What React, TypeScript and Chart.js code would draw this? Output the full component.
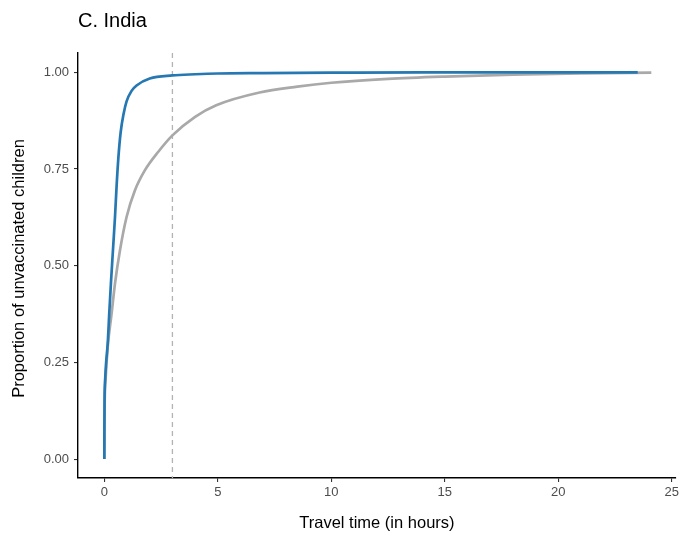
import React, { useEffect, useRef } from "react";
import { Chart, registerables } from "chart.js";

Chart.register(...registerables);

const TITLE = "C. India";
const X_TITLE = "Travel time (in hours)";
const Y_TITLE = "Proportion of unvaccinated children";
const X_TICKS = [0, 5, 10, 15, 20, 25];
const Y_TICKS = [0, 0.25, 0.5, 0.75, 1.0];
const CUTOFF_HOURS = 3;

const BLUE_X = [0, 0.003, 0.01, 0.04, 0.08, 0.15, 0.22, 0.29, 0.38, 0.47, 0.54, 0.62, 0.72, 0.85, 0.98, 1.2, 1.42, 2.0, 3, 4, 5, 7, 10, 14, 18, 23.5];
const BLUE_Y = [0, 0.08, 0.15, 0.21, 0.25, 0.3, 0.38, 0.454, 0.54, 0.626, 0.705, 0.78, 0.845, 0.893, 0.925, 0.952, 0.966, 0.984, 0.992, 0.995, 0.997, 0.998, 0.999, 1.0, 1.0, 1.0];

const GRAY_X = [0, 0.01, 0.05, 0.15, 0.32, 0.47, 0.69, 0.98, 1.35, 1.79, 2.37, 3.0, 4, 4.93, 6.84, 8.5, 10, 12.5, 15, 18, 21, 24.1];
const GRAY_Y = [0, 0.12, 0.2, 0.29, 0.376, 0.454, 0.54, 0.626, 0.695, 0.747, 0.794, 0.837, 0.885, 0.915, 0.948, 0.963, 0.973, 0.983, 0.989, 0.994, 0.997, 0.999];

const FONT = "'Liberation Sans', Arial, Helvetica, sans-serif";

export default function App() {
  const ref = useRef<HTMLCanvasElement | null>(null);

  useEffect(() => {
    if (!ref.current) return;
    const overlay = {
      id: "overlay",
      beforeDatasetsDraw(chart: any) {
        const { ctx, chartArea, scales } = chart;
        const x = scales.x.getPixelForValue(CUTOFF_HOURS);
        ctx.save();
        ctx.strokeStyle = "#b3b3b3";
        ctx.lineWidth = 1.3;
        ctx.setLineDash([5, 4]);
        ctx.beginPath();
        ctx.moveTo(x, chartArea.top);
        ctx.lineTo(x, chartArea.bottom);
        ctx.stroke();
        ctx.restore();
      },
      afterDraw(chart: any) {
        const { ctx, chartArea } = chart;
        ctx.save();
        ctx.fillStyle = "#000";
        ctx.textBaseline = "middle";
        ctx.font = `20px ${FONT}`;
        ctx.textAlign = "left";
        ctx.fillText(TITLE, chartArea.left, 21);
        ctx.font = `16.5px ${FONT}`;
        ctx.textAlign = "center";
        ctx.fillText(X_TITLE, (chartArea.left + chartArea.right) / 2, 523);
        ctx.translate(19, (chartArea.top + chartArea.bottom) / 2 + 3);
        ctx.rotate(-Math.PI / 2);
        ctx.fillText(Y_TITLE, 0, 0);
        ctx.restore();
      },
    };

    const chart = new Chart(ref.current, {
      type: "line",
      data: {
        datasets: [
          {
            label: "blue",
            data: BLUE_X.map((x, i) => ({ x, y: BLUE_Y[i] })),
            borderColor: "#2678b2",
            borderWidth: 2.7,
            pointRadius: 0,
            cubicInterpolationMode: "monotone",
            order: 0,
          },
          {
            label: "gray",
            data: GRAY_X.map((x, i) => ({ x, y: GRAY_Y[i] })),
            borderColor: "#a9a9a9",
            borderWidth: 2.7,
            pointRadius: 0,
            cubicInterpolationMode: "monotone",
            order: 1,
          },
        ],
      },
      options: {
        responsive: false,
        animation: false,
        devicePixelRatio: 1,
        layout: { padding: { top: 53, right: 4, left: 0, bottom: 0 } },
        plugins: { legend: { display: false }, tooltip: { enabled: false } },
        scales: {
          x: {
            type: "linear",
            min: -1.16,
            max: 25.18,
            afterFit: (s: any) => { s.height = 60; },
            afterBuildTicks: (s: any) => { s.ticks = X_TICKS.map((v) => ({ value: v })); },
            grid: { drawOnChartArea: false, tickLength: 4, color: "#333", lineWidth: 1.1 },
            border: { display: true, color: "#000", width: 1.4 },
            ticks: {
              color: "#4d4d4d",
              font: { family: FONT, size: 13 },
              padding: 3,
              autoSkip: false,
              maxRotation: 0,
              callback: (v: any) => String(v),
            },
          },
          y: {
            type: "linear",
            min: -0.049,
            max: 1.05,
            afterFit: (s: any) => { s.width = 78; },
            afterBuildTicks: (s: any) => { s.ticks = Y_TICKS.map((v) => ({ value: v })); },
            grid: { drawOnChartArea: false, tickLength: 4, color: "#333", lineWidth: 1.1 },
            border: { display: true, color: "#000", width: 1.4 },
            ticks: {
              color: "#4d4d4d",
              font: { family: FONT, size: 13 },
              padding: 5,
              autoSkip: false,
              callback: (v: any) => Number(v).toFixed(2),
            },
          },
        },
      },
      plugins: [overlay],
    } as any);
    return () => chart.destroy();
  }, []);

  return (
    <div style={{ position: "fixed", left: 0, top: 0, width: 682, height: 538, background: "#fff" }}>
      <canvas ref={ref} width={682} height={538} style={{ width: 682, height: 538 }} />
    </div>
  );
}
